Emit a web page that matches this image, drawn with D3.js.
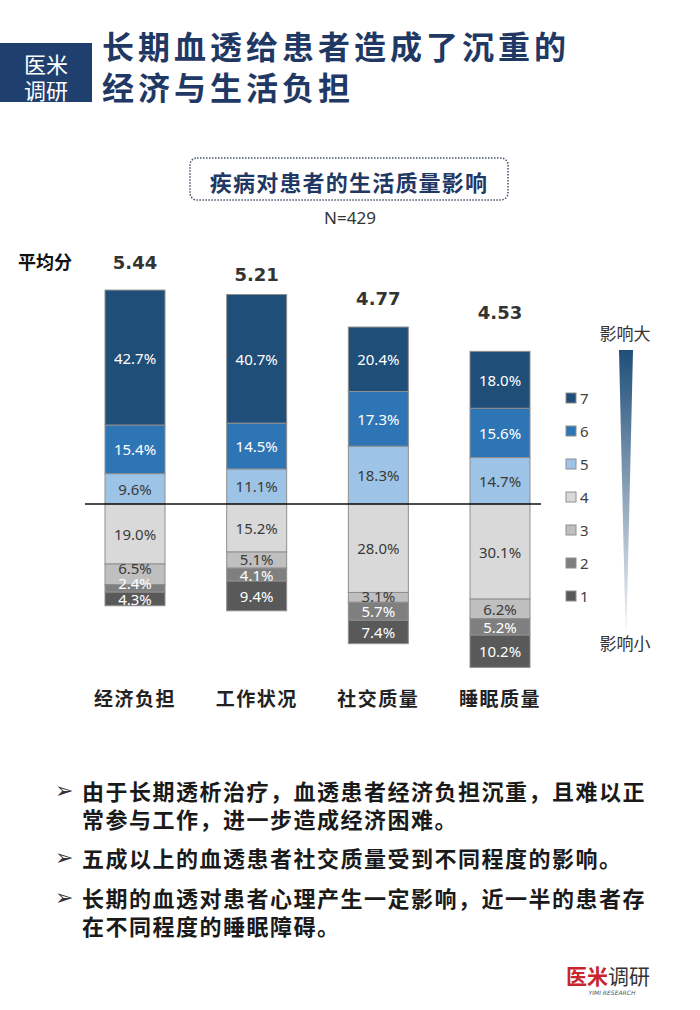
<!DOCTYPE html>
<html>
<head>
<meta charset="utf-8">
<script src="https://cdn.jsdelivr.net/npm/d3@7"></script>
<style>
  body { margin: 0; background: #fff; }
  svg { display: block; }
</style>
</head>
<body>
<div id="chart"></div>
<script>
// data
const categories = ["经济负担", "工作状况", "社交质量", "睡眠质量"];
const averages = [5.44, 5.21, 4.77, 4.53];
const level7 = [42.7, 40.7, 20.4, 18.0];
const level6 = [15.4, 14.5, 17.3, 15.6];
const level5 = [9.6, 11.1, 18.3, 14.7];
const level4 = [19.0, 15.2, 28.0, 30.1];
const level3 = [6.5, 5.1, 3.1, 6.2];
const level2 = [2.4, 4.1, 5.7, 5.2];
const level1 = [4.3, 9.4, 7.4, 10.2];
const levelNames = ["7", "6", "5", "4", "3", "2", "1"];
const levelColors = ["#1f4e79", "#2e75b6", "#9dc3e6", "#d9d9d9", "#bfbfbf", "#7f7f7f", "#595959"];
const labelColors = ["#fff", "#fff", "#3a3a3a", "#3a3a3a", "#3a3a3a", "#fff", "#fff"];
const bullets = [
    ["由于长期透析治疗，血透患者经济负担沉重，且难以正", "常参与工作，进一步造成经济困难。"],
    ["五成以上的血透患者社交质量受到不同程度的影响。"],
    ["长期的血透对患者心理产生一定影响，近一半的患者存", "在不同程度的睡眠障碍。"]
];

const width = 700, height = 1010;
const cjk = '"Noto Sans CJK SC", "Noto Sans", sans-serif';
const navy = "#1f3864";

const svg = d3.select('#chart').append('svg')
    .attr('width', width)
    .attr('height', height);

// header
svg.append('rect').attr('x', 0).attr('y', 43).attr('width', 92).attr('height', 59).attr('fill', '#1f3f6e');
svg.append('text').attr('x', 46).attr('y', 63).text('医米');
svg.append('text').attr('x', 46).attr('y', 89).text('调研');
svg.selectAll('text')
    .attr('text-anchor', 'middle').attr('dominant-baseline', 'central')
    .attr('fill', '#fff').style('font-family', cjk).style('font-size', '22px');

const titleLines = ["长期血透给患者造成了沉重的", "经济与生活负担"];
svg.selectAll('.title').data(titleLines).enter().append('text')
    .attr('class', 'title')
    .attr('x', 102)
    .attr('y', (d, i) => 45 + i * 41)
    .attr('dominant-baseline', 'central')
    .attr('fill', navy)
    .style('font-family', cjk).style('font-weight', 'bold')
    .style('font-size', '32px').style('letter-spacing', '4px')
    .text(d => d);

// sub title box
svg.append('rect').attr('x', 190).attr('y', 158).attr('width', 318).attr('height', 42)
    .attr('rx', 7).attr('fill', 'none').attr('stroke', '#44546a')
    .attr('stroke-width', 1.5).attr('stroke-dasharray', '1.5,1.5');
svg.append('text').attr('x', 349).attr('y', 181)
    .attr('text-anchor', 'middle').attr('dominant-baseline', 'central')
    .attr('fill', navy).style('font-family', cjk).style('font-weight', 'bold')
    .style('font-size', '22px').style('letter-spacing', '1.2px')
    .text('疾病对患者的生活质量影响');
svg.append('text').attr('x', 350).attr('y', 217)
    .attr('text-anchor', 'middle').attr('dominant-baseline', 'central')
    .attr('fill', '#333').style('font-family', '"Noto Sans", sans-serif').style('font-size', '17px')
    .text('N=429');

// scales
const x = d3.scalePoint().domain(categories).range([135, 500]);
const h = d3.scaleLinear().domain([0, 100]).range([0, 316]);
const avgY = d3.scaleLinear().domain([4.53, 5.44]).range([312, 262]);
const base = 504;
const barW = 60;

const above = [level5, level6, level7];        // stacked upward
const below = [level4, level3, level2, level1]; // stacked downward

const segments = [];
categories.forEach((c, i) => {
    let y = base;
    above.forEach((arr, k) => {
        const lv = 2 - k; // index into levelNames (5 -> 2, 6 -> 1, 7 -> 0)
        const hh = h(arr[i]);
        segments.push({cat: c, v: arr[i], lv: lv, y0: y - hh, y1: y, ly: y - hh / 2});
        y -= hh;
    });
    y = base;
    const low = [];
    below.forEach((arr, k) => {
        const lv = 3 + k;
        const hh = h(arr[i]);
        const s = {cat: c, v: arr[i], lv: lv, y0: y, y1: y + hh, ly: y + hh / 2};
        low.push(s);
        segments.push(s);
        y += hh;
    });
    // keep small labels apart, push upward from the bottom
    for (let k = low.length - 2; k >= 0; k--) {
        low[k].ly = Math.min(low[k].ly, low[k + 1].ly - 15.5);
    }
});

const g = svg.append('g');
g.selectAll('rect').data(segments).enter().append('rect')
    .attr('x', d => x(d.cat) - barW / 2)
    .attr('y', d => d.y0)
    .attr('width', barW)
    .attr('height', d => d.y1 - d.y0)
    .attr('fill', d => levelColors[d.lv])
    .attr('stroke', '#8f8f8f')
    .attr('stroke-width', 1);

g.selectAll('text').data(segments).enter().append('text')
    .attr('x', d => x(d.cat))
    .attr('y', d => d.ly)
    .attr('text-anchor', 'middle').attr('dominant-baseline', 'central')
    .attr('fill', d => labelColors[d.lv])
    .style('font-family', '"Noto Sans", sans-serif').style('font-size', '15px')
    .text(d => d.v.toFixed(1) + '%');

// base line
svg.append('line').attr('x1', 85).attr('x2', 541).attr('y1', base).attr('y2', base)
    .attr('stroke', '#111').attr('stroke-width', 1.5);

// averages
svg.append('text').attr('x', 18).attr('y', 261).attr('dominant-baseline', 'central')
    .attr('fill', '#111').style('font-family', cjk).style('font-weight', 'bold').style('font-size', '18px')
    .text('平均分');
svg.selectAll('.avg').data(averages).enter().append('text')
    .attr('class', 'avg')
    .attr('x', (d, i) => x(categories[i]))
    .attr('y', d => avgY(d))
    .attr('text-anchor', 'middle').attr('dominant-baseline', 'central')
    .attr('fill', '#333')
    .style('font-family', '"DejaVu Sans", sans-serif').style('font-weight', 'bold').style('font-size', '18px')
    .text(d => d.toFixed(2));

// category labels
svg.selectAll('.cat').data(categories).enter().append('text')
    .attr('class', 'cat')
    .attr('x', d => x(d))
    .attr('y', 697)
    .attr('text-anchor', 'middle').attr('dominant-baseline', 'central')
    .attr('fill', '#222')
    .style('font-family', cjk).style('font-weight', 'bold')
    .style('font-size', '19px').style('letter-spacing', '1.5px')
    .text(d => d);

// legend
const legY = d3.scalePoint().domain(levelNames).range([398, 596]);
const leg = svg.append('g');
leg.selectAll('rect').data(levelNames).enter().append('rect')
    .attr('x', 566).attr('y', d => legY(d) - 5)
    .attr('width', 10).attr('height', 10)
    .attr('fill', (d, i) => levelColors[i])
    .attr('stroke', '#8f8f8f').attr('stroke-width', 1);
leg.selectAll('text').data(levelNames).enter().append('text')
    .attr('x', 580).attr('y', d => legY(d))
    .attr('dominant-baseline', 'central')
    .attr('fill', '#404040')
    .style('font-family', '"Noto Sans", sans-serif').style('font-size', '15px')
    .text(d => d);

// gradient wedge
const defs = svg.append('defs');
const grad = defs.append('linearGradient').attr('id', 'wedge')
    .attr('x1', 0).attr('y1', 0).attr('x2', 0).attr('y2', 1);
grad.append('stop').attr('offset', '0%').attr('stop-color', '#1f4e79');
grad.append('stop').attr('offset', '100%').attr('stop-color', '#f4f4f6');
svg.append('path')
    .attr('d', 'M619,350 L633,350 L626.5,630 L625.5,630 Z')
    .attr('fill', 'url(#wedge)');
svg.append('text').attr('x', 625).attr('y', 332).text('影响大');
svg.append('text').attr('x', 625).attr('y', 642).text('影响小');
svg.selectAll('text').filter(function() { return this.textContent.startsWith('影响'); })
    .attr('text-anchor', 'middle').attr('dominant-baseline', 'central')
    .attr('fill', '#333').style('font-family', cjk).style('font-size', '17px');

// bullet notes
const bulletTop = [790, 857, 897];
bullets.forEach((lines, i) => {
    svg.append('text')
        .attr('x', 55).attr('y', bulletTop[i])
        .attr('dominant-baseline', 'central')
        .attr('fill', '#333')
        .style('font-family', '"DejaVu Sans", sans-serif').style('font-size', '22px')
        .text('➢');
    lines.forEach((line, j) => {
        svg.append('text')
            .attr('x', 82).attr('y', bulletTop[i] + j * 28)
            .attr('dominant-baseline', 'central')
            .attr('fill', '#1a1a1a')
            .style('font-family', cjk).style('font-weight', 'bold')
            .style('font-size', '22px').style('letter-spacing', '1.5px')
            .text(line);
    });
});

// logo
const logo = svg.append('text').attr('x', 566).attr('y', 975)
    .attr('dominant-baseline', 'central')
    .style('font-family', cjk).style('font-size', '21px');
logo.append('tspan').attr('fill', '#c8262c').style('font-weight', 'bold').text('医米');
logo.append('tspan').attr('fill', '#333').text('调研');
svg.append('text').attr('x', 612).attr('y', 992)
    .attr('text-anchor', 'middle').attr('dominant-baseline', 'central')
    .attr('fill', '#555').style('font-family', '"DejaVu Sans", sans-serif')
    .style('font-size', '6px').style('font-style', 'italic')
    .text('YIMI RESEARCH');
</script>
</body>
</html>
